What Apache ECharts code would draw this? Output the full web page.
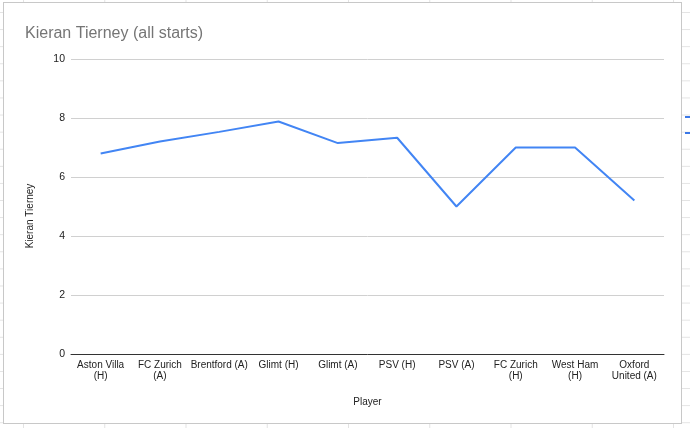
<!DOCTYPE html>
<html>
<head>
<meta charset="utf-8">
<script src="https://cdn.jsdelivr.net/npm/echarts@6/dist/echarts.min.js"></script>
<style>
  html, body { margin: 0; padding: 0; }
  body {
    width: 690px; height: 428px; position: relative; overflow: hidden;
    background-color: #ffffff;
    background-image:
      linear-gradient(to right, #e3e3e3 1px, transparent 1px),
      linear-gradient(to bottom, #e3e3e3 1px, transparent 1px);
    background-size: 81.25px 17.1px;
    background-position: 23px 12px;
  }
  #card {
    position: absolute; left: 3px; top: 2px; width: 677px; height: 420px;
    background: #fff; border: 1px solid #c8c8c8;
  }
  .frag { position: absolute; left: 685px; width: 6px; height: 2px; background: #3b78e7; }
  #chart { position: absolute; left: 0; top: 0; width: 690px; height: 428px; }
</style>
</head>
<body>
<div id="card"></div>
<div class="frag" style="top:116px"></div>
<div class="frag" style="top:132px"></div>
<div id="chart"></div>
<script>
const titleText = 'Kieran Tierney (all starts)';
const categories = ['Aston Villa\n(H)', 'FC Zurich\n(A)', 'Brentford (A)', 'Glimt (H)', 'Glimt (A)', 'PSV (H)', 'PSV (A)', 'FC Zurich\n(H)', 'West Ham\n(H)', 'Oxford\nUnited (A)'];
const ratings = [6.8, 7.2, 7.53, 7.88, 7.15, 7.33, 5.0, 7.0, 7.0, 5.2];
const yTicks = [0, 2, 4, 6, 8, 10];
const xName = 'Player';
const yName = 'Kieran Tierney';

const font = 'Arial, "Liberation Sans", sans-serif';
const chart = echarts.init(document.getElementById('chart'), null, { renderer: 'canvas' });
chart.setOption({
  backgroundColor: 'transparent',
  animation: false,
  title: {
    text: titleText, left: 20, top: 21,
    textStyle: { fontFamily: font, fontSize: 16, fontWeight: 'normal', color: '#757575' }
  },
  grid: { left: 71, right: 26, top: 59, bottom: 74 },
  xAxis: {
    type: 'category', data: categories, boundaryGap: true,
    name: xName, nameLocation: 'middle', nameGap: 43,
    nameTextStyle: { fontFamily: font, fontSize: 10, color: '#222' },
    axisLine: { lineStyle: { color: '#333', width: 1 } },
    axisTick: { show: false },
    axisLabel: { fontFamily: font, fontSize: 10, color: '#222', margin: 6, lineHeight: 11, interval: 0 }
  },
  yAxis: {
    type: 'value', min: yTicks[0], max: yTicks[yTicks.length - 1], interval: 2,
    name: yName, nameLocation: 'middle', nameGap: 36,
    nameTextStyle: { fontFamily: font, fontSize: 10, color: '#222', padding: [0, 19, 0, 0] },
    axisLine: { show: false }, axisTick: { show: false },
    axisLabel: { fontFamily: font, fontSize: 10.5, color: '#222', margin: 6 },
    splitLine: { lineStyle: { color: '#d0d0d0', width: 1 } }
  },
  series: [{
    type: 'line', data: ratings, showSymbol: false, symbol: 'none',
    lineStyle: { color: '#4285f4', width: 2 }, itemStyle: { color: '#4285f4' }
  }]
});
</script>
</body>
</html>
